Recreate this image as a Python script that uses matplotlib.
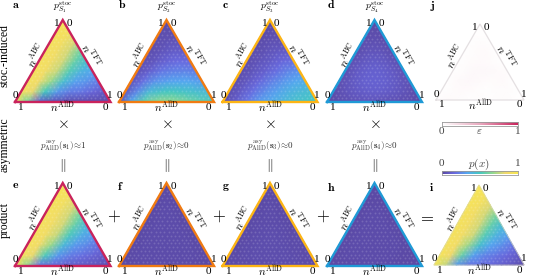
import numpy as np
import matplotlib
matplotlib.use("Agg")
import matplotlib.pyplot as plt
from matplotlib.colors import LinearSegmentedColormap
from matplotlib.tri import Triangulation

plt.rcParams["mathtext.fontset"] = "cm"
plt.rcParams["font.family"] = ["Liberation Serif", "DejaVu Serif"]

W, H = 533, 280

# p(x) on the simplex, rows run from the base (AllD..TFT) up to the ABC corner
vals_a = [[.95, .60, .12, .05, .03, .02, .02, .02, .02],
          [.93, .82, .50, .30, .22, .20, .15, .10],
          [.93, .86, .68, .45, .32, .28, .22],
          [.93, .88, .76, .54, .40, .33],
          [.93, .88, .78, .58, .45],
          [.93, .88, .78, .60],
          [.94, .90, .80],
          [.95, .92],
          [.97]]
vals_b = [[.05, .35, .55, .65, .68, .65, .60, .55, .50],
          [.08, .25, .42, .48, .50, .48, .45, .42],
          [.06, .18, .28, .32, .33, .33, .30],
          [.05, .12, .20, .23, .24, .22],
          [.04, .08, .14, .17, .16],
          [.03, .06, .10, .10],
          [.03, .05, .06],
          [.03, .03],
          [.02]]
vals_c = [[.02, .10, .20, .30, .35, .40, .45, .48, .50],
          [.03, .10, .18, .26, .32, .38, .42, .45],
          [.03, .08, .15, .22, .28, .33, .36],
          [.03, .07, .12, .18, .24, .28],
          [.03, .06, .10, .15, .18],
          [.03, .05, .08, .10],
          [.02, .04, .05],
          [.02, .03],
          [.02]]
vals_d = [[.01, .03, .05, .06, .06, .05, .04, .03, .01],
          [.03, .06, .09, .11, .11, .09, .06, .03],
          [.04, .08, .12, .13, .12, .08, .05],
          [.04, .09, .12, .12, .09, .05],
          [.04, .08, .10, .08, .04],
          [.03, .06, .06, .03],
          [.03, .04, .03],
          [.02, .02],
          [.01]]
vals_e = [[.95, .65, .20, .15, .12, .10, .08, .06, .04],
          [.93, .82, .52, .30, .22, .18, .14, .10],
          [.93, .86, .68, .42, .30, .25, .18],
          [.93, .88, .76, .52, .38, .30],
          [.93, .88, .78, .58, .42],
          [.93, .88, .78, .60],
          [.94, .90, .80],
          [.95, .92],
          [.97]]
vals_f = [[.01, .01, .02, .02, .02, .02, .02, .01, .01],
          [.01, .02, .02, .02, .02, .02, .02, .01],
          [.01, .02, .02, .02, .02, .02, .01],
          [.01, .02, .02, .02, .02, .01],
          [.01, .02, .02, .02, .01],
          [.01, .02, .02, .01],
          [.01, .02, .01],
          [.01, .01],
          [.01]]
vals_g = [[.01, .02, .02, .03, .03, .03, .03, .02, .02],
          [.01, .02, .03, .03, .03, .03, .02, .02],
          [.01, .02, .03, .03, .03, .02, .02],
          [.01, .02, .03, .03, .02, .02],
          [.01, .02, .02, .02, .01],
          [.01, .02, .02, .01],
          [.01, .02, .01],
          [.01, .01],
          [.01]]
vals_h = [[.01, .01, .01, .02, .02, .02, .01, .01, .01],
          [.01, .02, .02, .02, .02, .02, .01, .01],
          [.01, .02, .02, .02, .02, .02, .01],
          [.01, .02, .02, .02, .02, .01],
          [.01, .02, .02, .02, .01],
          [.01, .02, .02, .01],
          [.01, .01, .01],
          [.01, .01],
          [.01]]
vals_i = [[.99, .75, .30, .20, .18, .16, .12, .08, .03],
          [.96, .84, .58, .32, .24, .20, .16, .10],
          [.94, .87, .70, .46, .33, .27, .20],
          [.94, .88, .77, .54, .40, .32],
          [.94, .88, .78, .58, .44],
          [.94, .88, .78, .62],
          [.95, .90, .80],
          [.96, .93],
          [.98]]
vals_j = [[.02, .03, .02, .01, .02, .01, .02, .01, .01],
          [.01, .02, .03, .02, .01, .02, .02, .01],
          [.01, .03, .04, .03, .02, .03, .01],
          [.01, .02, .04, .04, .03, .02],
          [.01, .02, .03, .02, .01],
          [.01, .02, .03, .01],
          [.01, .02, .01],
          [.01, .01],
          [.01]]

stoc_titles = [r"$p_{S_1}^{\mathrm{stoc}}$", r"$p_{S_2}^{\mathrm{stoc}}$",
               r"$p_{S_3}^{\mathrm{stoc}}$", r"$p_{S_4}^{\mathrm{stoc}}$"]
asym_labels = [r"$p_{\mathrm{AllD}}^{\mathrm{asy}}(\mathbf{s}_1)\!\approx\!1$",
               r"$p_{\mathrm{AllD}}^{\mathrm{asy}}(\mathbf{s}_2)\!\approx\!0$",
               r"$p_{\mathrm{AllD}}^{\mathrm{asy}}(\mathbf{s}_3)\!\approx\!0$",
               r"$p_{\mathrm{AllD}}^{\mathrm{asy}}(\mathbf{s}_4)\!\approx\!0$"]

CRIMSON, ORANGE, GOLD, BLUE = "#c9235c", "#f07b12", "#fdb515", "#1f9ad6"

cmap_p = LinearSegmentedColormap.from_list("px", ["#5a48a3", "#6a6ae0", "#55a8f0", "#45c8c0",
                                                  "#90d890", "#f0d870", "#f8e850"])
cmap_e = LinearSegmentedColormap.from_list("eps", ["#ffffff", "#e9a9bf", "#c9235c"])

SQ = np.sqrt(3) / 2


def panel(left, right, base, apex, vals, cmap, edge, lw=1.7):
    ax = plt.gcf().add_axes([left / W, 1 - base / H, (right - left) / W, (base - apex) / H])
    ax.set_xlim(0, 1)
    ax.set_ylim(0, SQ)
    ax.axis("off")

    # simplex lattice for the values
    n = len(vals) - 1
    xs, ys, zs = [], [], []
    for r, row in enumerate(vals):
        for c, v in enumerate(row):
            xs.append((c + r / 2) / n)
            ys.append(r * SQ / n)
            zs.append(v)
    tri = Triangulation(xs, ys)
    ax.tripcolor(tri, zs, shading="gouraud", cmap=cmap, vmin=0, vmax=1, clip_on=False, zorder=1)

    # hexagon cell texture
    m = 22
    hx, hy = [], []
    for r in range(m + 1):
        for c in range(m + 1 - r):
            hx.append((c + r / 2) / m)
            hy.append(r * SQ / m)
    ax.scatter(hx, hy, s=2.2, marker="h", color="white", alpha=0.16, lw=0, zorder=2, clip_on=False)

    ax.plot([0, 1, .5, 0], [0, 0, SQ, 0], color=edge, lw=lw, solid_joinstyle="miter",
            clip_on=False, zorder=3)

    fs = 8
    ax.text(.44, SQ - .035, "1", ha="center", va="center", fontsize=fs, zorder=4)
    ax.text(.57, SQ - .035, "0", ha="center", va="center", fontsize=fs, zorder=4)
    ax.text(.005, .065, "0", ha="center", va="center", fontsize=fs, zorder=4)
    ax.text(.995, .065, "1", ha="center", va="center", fontsize=fs, zorder=4)
    ax.text(.065, -.055, "1", ha="center", va="center", fontsize=fs)
    ax.text(.945, -.055, "0", ha="center", va="center", fontsize=fs)
    ax.text(.5, -.06, r"$n^{\mathrm{AllD}}$", ha="center", va="center", fontsize=8)
    ax.text(.22, .495, r"$n^{\mathrm{ABC}}$", ha="center", va="center", rotation=60, fontsize=8)
    ax.text(.795, .495, r"$n^{\mathrm{TFT}}$", ha="center", va="center", rotation=-60, fontsize=8)
    return ax


fig = plt.figure(figsize=(W / 100, H / 100), dpi=100)
page = fig.add_axes([0, 0, 1, 1])
page.set_xlim(0, W)
page.set_ylim(H, 0)
page.axis("off")

panel(15, 110.5, 102, 20, vals_a, cmap_p, CRIMSON)
panel(119, 214, 102, 20, vals_b, cmap_p, ORANGE)
panel(222.5, 317.5, 102, 20, vals_c, cmap_p, GOLD)
panel(327, 422, 102, 20, vals_d, cmap_p, BLUE)
panel(436, 524, 100, 24, vals_j, cmap_e, "#e4e0e2", lw=0.9)
panel(15, 110.5, 266, 183, vals_e, cmap_p, CRIMSON)
panel(119, 214, 266, 183, vals_f, cmap_p, ORANGE)
panel(222.5, 317.5, 266, 183, vals_g, cmap_p, GOLD)
panel(327, 422, 266, 183, vals_h, cmap_p, BLUE)
panel(434, 524, 265, 185, vals_i, cmap_p, "#d8d8b0", lw=0.4)

centers = [63, 166.5, 270, 374.5]
for x, t, a in zip(centers, stoc_titles, asym_labels):
    page.text(x, 7, t, ha="center", va="center", fontsize=7)
    page.text(x, 145.5, a, ha="center", va="center", fontsize=6.5, color="#333333")
    page.text(x, 124, r"$\mathbf{\times}$", ha="center", va="center", fontsize=11)
    page.text(x, 166, r"$\mathbf{\Vert}$", ha="center", va="center", fontsize=10)

letters = ["a", "b", "c", "d", "j", "e", "f", "g", "h", "i"]
letter_x = [15.6, 121.7, 225.7, 331, 432.7, 15.6, 120.7, 226, 331, 431.7]
letter_y = [5, 5, 5, 5, 6, 185, 187, 187, 188, 188]
for x, y, s in zip(letter_x, letter_y, letters):
    page.text(x, y, r"$\mathbf{%s}$" % s, ha="center", va="center", fontsize=8.5)

for x in [114.3, 219, 323]:
    page.text(x, 217, r"$+$", ha="center", va="center", fontsize=12)
page.text(426.7, 217, r"$=$", ha="center", va="center", fontsize=12)

page.text(5, 56, "stoc.-induced", rotation=90, ha="center", va="center", fontsize=8.5)
page.text(5, 145, "asymmetric", rotation=90, ha="center", va="center", fontsize=8.5)
page.text(5, 220, "product", rotation=90, ha="center", va="center", fontsize=8.5)

# colorbars
grad = np.linspace(0, 1, 256)[None, :]
for y0, y1, cm in [(121.5, 125.5, cmap_e), (170.5, 174.5, cmap_p)]:
    cax = fig.add_axes([441.5 / W, 1 - y1 / H, 76 / W, (y1 - y0) / H])
    cax.imshow(grad, aspect="auto", cmap=cm)
    cax.set_xticks([])
    cax.set_yticks([])
    for sp in cax.spines.values():
        sp.set_linewidth(0.6)
        sp.set_color("#999999")

page.text(441.5, 132, "0", ha="center", va="center", fontsize=8, color="#444444")
page.text(517.5, 132, "1", ha="center", va="center", fontsize=8, color="#444444")
page.text(479, 132, r"$\varepsilon$", ha="center", va="center", fontsize=8, color="#444444")
page.text(441.5, 164, "0", ha="center", va="center", fontsize=8, color="#444444")
page.text(517.5, 164, "1", ha="center", va="center", fontsize=8, color="#444444")
page.text(479, 164, r"$p(x)$", ha="center", va="center", fontsize=8, color="#444444")

fig.savefig("out.png", dpi=100)
